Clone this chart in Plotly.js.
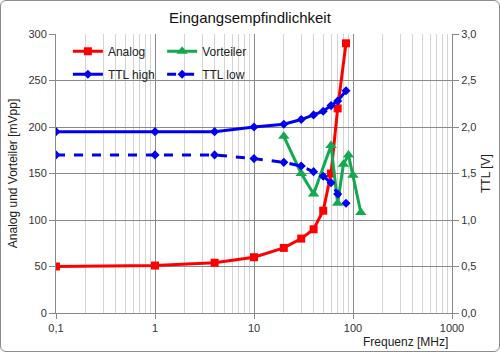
<!DOCTYPE html>
<html>
<head>
<meta charset="utf-8">
<script src="https://cdn.plot.ly/plotly-3.0.1.min.js"></script>
<style>
html,body{margin:0;padding:0;background:#fff;}
#wrap{position:relative;width:500px;height:353px;}
#chart{position:absolute;left:0;top:0;width:500px;height:353px;}
#frame{position:absolute;left:0;top:0;width:500px;height:352px;box-sizing:border-box;border:1px solid #8c8c8c;border-radius:6px;pointer-events:none;}
</style>
</head>
<body>
<div id="wrap"><div id="chart"></div><div id="frame"></div></div>
<script>
// Frequencies in MHz
const analogFreq = [0.1, 1, 4, 10, 20, 30, 40, 50, 60, 70, 85];
const analogVal  = [50, 51, 54, 60, 70, 80, 90, 110, 150, 220, 290];

const vorteilerFreq = [20, 30, 40, 60, 70, 80, 90, 100, 120];
const vorteilerVal  = [190, 150, 128, 180, 118, 160, 170, 148, 108];

const ttlFreq  = [0.1, 1, 4, 10, 20, 30, 40, 50, 60, 70, 85];
const ttlHigh  = [1.95, 1.95, 1.95, 2.0, 2.03, 2.08, 2.13, 2.17, 2.23, 2.28, 2.39];
const ttlLow   = [1.7, 1.7, 1.7, 1.66, 1.62, 1.58, 1.52, 1.47, 1.40, 1.28, 1.18];

const xTickVals = [0.1, 1, 10, 100, 1000];
const xTickText = ["0,1", "1", "10", "100", "1000"];
const y2TickVals = [0, 0.5, 1, 1.5, 2, 2.5, 3];
const y2TickText = ["0,0", "0,5", "1,0", "1,5", "2,0", "2,5", "3,0"];

const RED = '#ff0000', GREEN = '#14a850', BLUE = '#0000ee';
const FONT = 'Liberation Sans, Arial, sans-serif';

const traces = [
  {x: analogFreq, y: analogVal, name: 'Analog', type: 'scatter', mode: 'lines+markers', legendgroup: 'a',
   line: {color: RED, width: 3}, marker: {symbol: 'square', size: 8, color: RED}, legend: 'legend'},
  {x: vorteilerFreq, y: vorteilerVal, name: 'Vorteiler', type: 'scatter', mode: 'lines+markers', legendgroup: 'b',
   line: {color: GREEN, width: 3}, marker: {symbol: 'triangle-up', size: 10, color: GREEN}, legend: 'legend2'},
  {x: ttlFreq, y: ttlHigh, name: 'TTL high', type: 'scatter', mode: 'lines+markers', yaxis: 'y2', legendgroup: 'c',
   line: {color: BLUE, width: 3}, marker: {symbol: 'diamond', size: 7, color: BLUE}, legend: 'legend'},
  {x: ttlFreq, y: ttlLow, name: 'TTL low', type: 'scatter', mode: 'lines+markers', yaxis: 'y2', legendgroup: 'd',
   line: {color: BLUE, width: 3, dash: 'dash'}, marker: {symbol: 'diamond', size: 7, color: BLUE}, legend: 'legend2'}
];

const layout = {
  width: 500, height: 353,
  margin: {l: 56, r: 48, t: 34, b: 40},
  paper_bgcolor: '#fff', plot_bgcolor: '#fff',
  font: {family: FONT, size: 11, color: '#333'},
  separators: ', ',
  title: {text: 'Eingangsempfindlichkeit', font: {family: FONT, size: 15, color: '#111'}, x: 0.5, xanchor: 'center', y: 0.95, yanchor: 'middle'},
  showlegend: true,
  xaxis: {
    type: 'log', range: [-1, 3],
    tickvals: xTickVals, ticktext: xTickText,
    showgrid: true, gridcolor: '#8a8a8a', gridwidth: 1,
    minor: {dtick: 'D1', showgrid: true, gridcolor: '#d4d4d4', gridwidth: 1, ticks: ''},
    showline: true, linecolor: '#8a8a8a', linewidth: 1,
    ticks: 'outside', ticklen: 5, tickcolor: '#8a8a8a',
    zeroline: false,
    tickfont: {size: 11, color: '#333'}
  },
  yaxis: {
    range: [0, 300], dtick: 50, tick0: 0,
    showgrid: true, gridcolor: '#8a8a8a', gridwidth: 1,
    showline: true, linecolor: '#8a8a8a', linewidth: 1,
    ticks: 'outside', ticklen: 6, tickcolor: '#8a8a8a',
    zeroline: false,
    tickfont: {size: 11, color: '#333'},
    title: {text: 'Analog und Vorteiler [mVpp]', font: {size: 12, color: '#222'}, standoff: 8}
  },
  yaxis2: {
    range: [0, 3], overlaying: 'y', side: 'right',
    tickvals: y2TickVals, ticktext: y2TickText,
    showgrid: false,
    showline: true, linecolor: '#8a8a8a', linewidth: 1,
    ticks: 'outside', ticklen: 6, tickcolor: '#8a8a8a',
    zeroline: false,
    tickfont: {size: 11, color: '#333'},
    title: {text: 'TTL [V]', font: {size: 12, color: '#222'}, standoff: 6}
  },
  legend: {x: 0.03, y: 0.99, xanchor: 'left', yanchor: 'top', bgcolor: 'rgba(0,0,0,0)',
           font: {size: 12, color: '#222'}, orientation: 'v', tracegroupgap: 4, itemwidth: 30},
  legend2: {x: 0.268, y: 0.99, xanchor: 'left', yanchor: 'top', bgcolor: 'rgba(0,0,0,0)',
           font: {size: 12, color: '#222'}, orientation: 'v', tracegroupgap: 4, itemwidth: 30},
  shapes: [
    {type: 'rect', xref: 'paper', yref: 'paper', x0: 0.002, x1: 0.506, y0: 0.818, y1: 0.99,
     fillcolor: '#fff', line: {width: 0}, layer: 'between'}
  ],
  annotations: [
    {text: 'Frequenz [MHz]', xref: 'paper', yref: 'paper', x: 0.995, y: 0, xanchor: 'right', yanchor: 'top',
     yshift: -20, showarrow: false, font: {size: 12, color: '#222'}}
  ]
};

Plotly.newPlot('chart', traces, layout, {displayModeBar: false, staticPlot: true});
</script>
</body>
</html>
